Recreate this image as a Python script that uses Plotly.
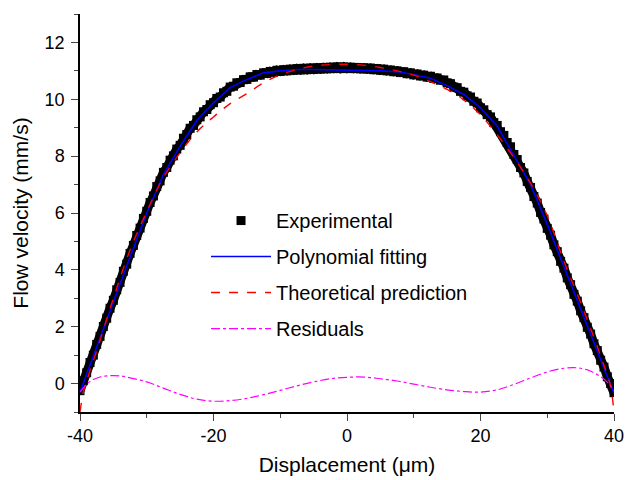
import plotly.graph_objects as go

# Experimental data (displacement in µm, velocity in mm/s)
exp_x = [-40.0, -39.5, -39.0, -38.5, -38.0, -37.5, -37.0, -36.5, -36.0, -35.5, -35.0,
         -34.5, -34.0, -33.5, -33.0, -32.5, -32.0, -31.5, -31.0, -30.5, -30.0,
         -29.5, -29.0, -28.5, -28.0, -27.5, -27.0, -26.5, -26.0, -25.5, -25.0,
         -24.5, -24.0, -23.5, -23.0, -22.5, -22.0, -21.5, -21.0, -20.5, -20.0,
         -19.5, -19.0, -18.5, -18.0, -17.5, -17.0, -16.5, -16.0, -15.5, -15.0,
         -14.5, -14.0, -13.5, -13.0, -12.5, -12.0, -11.5, -11.0, -10.5, -10.0,
         -9.5, -9.0, -8.5, -8.0, -7.5, -7.0, -6.5, -6.0, -5.5, -5.0,
         -4.5, -4.0, -3.5, -3.0, -2.5, -2.0, -1.5, -1.0, -0.5, 0.0,
         0.5, 1.0, 1.5, 2.0, 2.5, 3.0, 3.5, 4.0, 4.5, 5.0,
         5.5, 6.0, 6.5, 7.0, 7.5, 8.0, 8.5, 9.0, 9.5, 10.0,
         10.5, 11.0, 11.5, 12.0, 12.5, 13.0, 13.5, 14.0, 14.5, 15.0,
         15.5, 16.0, 16.5, 17.0, 17.5, 18.0, 18.5, 19.0, 19.5, 20.0,
         20.5, 21.0, 21.5, 22.0, 22.5, 23.0, 23.5, 24.0, 24.5, 25.0,
         25.5, 26.0, 26.5, 27.0, 27.5, 28.0, 28.5, 29.0, 29.5, 30.0,
         30.5, 31.0, 31.5, 32.0, 32.5, 33.0, 33.5, 34.0, 34.5, 35.0,
         35.5, 36.0, 36.5, 37.0, 37.5, 38.0, 38.5, 39.0, 39.5, 40.0]
exp_v = [-0.25, 0.10, 0.38, 0.74, 1.00, 1.38, 1.66, 2.01, 2.30, 2.65, 2.93,
         3.30, 3.56, 3.95, 4.20, 4.58, 4.86, 5.21, 5.47, 5.81, 6.06,
         6.37, 6.60, 6.93, 7.13, 7.43, 7.60, 7.86, 8.01, 8.25, 8.38,
         8.63, 8.76, 8.98, 9.08, 9.28, 9.38, 9.56, 9.64, 9.81, 9.88,
         10.03, 10.08, 10.23, 10.28, 10.43, 10.46, 10.58, 10.59, 10.69, 10.70,
         10.79, 10.78, 10.87, 10.85, 10.93, 10.91, 10.98, 10.95, 11.02, 10.98,
         11.04, 11.00, 11.06, 11.02, 11.08, 11.03, 11.09, 11.04, 11.10, 11.05,
         11.11, 11.06, 11.12, 11.07, 11.13, 11.08, 11.14, 11.08, 11.14, 11.08,
         11.13, 11.08, 11.12, 11.07, 11.11, 11.06, 11.10, 11.04, 11.08, 11.02,
         11.06, 11.00, 11.03, 10.97, 11.00, 10.94, 10.97, 10.90, 10.93, 10.86,
         10.89, 10.82, 10.85, 10.78, 10.81, 10.73, 10.75, 10.67, 10.68, 10.58,
         10.55, 10.43, 10.41, 10.28, 10.25, 10.12, 10.08, 9.93, 9.87, 9.70,
         9.63, 9.46, 9.38, 9.18, 9.08, 8.86, 8.73, 8.48, 8.33, 8.06,
         7.88, 7.60, 7.41, 7.11, 6.90, 6.58, 6.35, 6.02, 5.79, 5.46,
         5.22, 4.88, 4.64, 4.30, 4.06, 3.72, 3.48, 3.14, 2.90, 2.56,
         2.32, 1.98, 1.74, 1.40, 1.16, 0.82, 0.58, 0.24, 0.00, -0.32]

# Polynomial fit
fit_x = [-40, -37.5, -35, -32.5, -30, -27.5, -25, -22.5, -20, -17.5, -15, -12.5, -10,
         -7.5, -5, -2.5, 0, 2.5, 5, 7.5, 10, 12.5, 15, 17.5, 20, 22.5, 25, 27.5,
         30, 32.5, 35, 37.5, 40]
fit_v = [-0.30, 1.30, 2.90, 4.45, 6.00, 7.35, 8.35, 9.25, 9.88, 10.41, 10.70, 10.93, 11.00,
         11.05, 11.05, 11.04, 11.03, 11.02, 11.00, 10.97, 10.87, 10.74, 10.48, 10.17, 9.70,
         9.05, 8.05, 7.00, 5.60, 4.10, 2.60, 1.10, -0.35]

# Theoretical prediction
theo_x = [-40, -39.5, -39, -37.5, -35, -32.5, -30, -27.5, -25, -22.5, -20, -17.5, -15,
          -12.5, -10, -7.5, -5, -2.5, 0, 2.5, 5, 7.5, 10, 12.5, 15, 17.5, 20, 22.5,
          25, 27.5, 30, 32.5, 35, 37.5, 39, 39.5, 40]
theo_v = [-1.00, -0.30, 0.10, 1.15, 3.00, 4.70, 6.05, 7.25, 8.12, 8.85, 9.38, 9.85, 10.20,
          10.58, 10.86, 11.05, 11.17, 11.22, 11.23, 11.20, 11.12, 11.00, 10.85, 10.62,
          10.35, 9.98, 9.45, 8.75, 7.95, 7.05, 5.90, 4.30, 2.85, 1.30, 0.30, -0.10, -1.00]

# Residuals
res_x = [-40, -39, -38, -37, -36, -35, -34, -32.5, -30, -27.5, -25, -22.5, -20, -17.5,
         -15, -12.5, -10, -7.5, -5, -2.5, 0, 2.5, 5, 7.5, 10, 12.5, 15, 17.5, 20, 22.5,
         25, 27.5, 30, 32.5, 34, 35, 36, 37, 38, 39, 40]
res_v = [-0.30, -0.02, 0.14, 0.23, 0.27, 0.28, 0.27, 0.20, 0.06, -0.16, -0.38, -0.55,
         -0.62, -0.60, -0.52, -0.39, -0.24, -0.08, 0.06, 0.17, 0.22, 0.23, 0.17, 0.09,
         -0.02, -0.13, -0.22, -0.28, -0.30, -0.22, -0.03, 0.20, 0.41, 0.54, 0.56, 0.54,
         0.48, 0.38, 0.24, 0.05, -0.25]

x_ticks = [-40, -20, 0, 20, 40]
x_tick_text = ["-40", "-20", "0", "20", "40"]
y_ticks = [0, 2, 4, 6, 8, 10, 12]
y_tick_text = ["0", "2", "4", "6", "8", "10", "12"]

FONT = "Liberation Sans, Arial, sans-serif"

fig = go.Figure()
# continuous band underneath the experimental squares
fig.add_trace(go.Scatter(x=exp_x, y=exp_v, mode="lines", showlegend=False,
                         hoverinfo="skip", line=dict(color="black", width=9)))
fig.add_trace(go.Scatter(x=exp_x, y=exp_v, mode="markers", name="Experimental",
                         legendgroup="a",
                         marker=dict(symbol="square", size=9, color="black",
                                     line=dict(width=0))))
fig.add_trace(go.Scatter(x=fit_x, y=fit_v, mode="lines", name="Polynomial fitting",
                         legendgroup="b",
                         line=dict(color="#0000FF", width=1.6)))
fig.add_trace(go.Scatter(x=theo_x, y=theo_v, mode="lines", name="Theoretical prediction",
                         legendgroup="c",
                         line=dict(color="#FF0000", width=1.4, dash="dash", shape="spline")))
fig.add_trace(go.Scatter(x=res_x, y=res_v, mode="lines", name="Residuals",
                         legendgroup="d",
                         line=dict(color="#FF00FF", width=1.2, dash="dashdot", shape="spline")))

fig.update_layout(
    width=626, height=480,
    margin=dict(l=80, r=12, t=14, b=68),
    paper_bgcolor="white", plot_bgcolor="white",
    font=dict(family=FONT, size=18, color="black"),
    showlegend=True,
    legend=dict(x=0.236, y=0.53, xanchor="left", yanchor="top",
                bgcolor="rgba(0,0,0,0)", borderwidth=0, itemwidth=60,
                font=dict(size=20, family=FONT), tracegroupgap=7),
    xaxis=dict(range=[-40, 40], tickvals=x_ticks, ticktext=x_tick_text,
               ticks="outside", ticklen=7, automargin=False,
               tickwidth=1.3, showline=True, linecolor="black", linewidth=1.5,
               showgrid=False, zeroline=False, mirror=False,
               minor=dict(dtick=10, tick0=0, ticks="outside", ticklen=4,
                          tickwidth=1.2, showgrid=False),
               title=dict(text="Displacement (μm)", font=dict(size=21), standoff=12),
               tickfont=dict(size=18)),
    yaxis=dict(range=[-1, 13], tickvals=y_ticks, ticktext=y_tick_text,
               ticks="outside", ticklen=7, automargin=False, ticklabelstandoff=3,
               tickwidth=1.3, showline=True, linecolor="black", linewidth=1.5,
               showgrid=False, zeroline=False, mirror=False,
               minor=dict(dtick=1, tick0=1, ticks="outside", ticklen=4,
                          tickwidth=1.2, showgrid=False),
               title=dict(text="Flow velocity (mm/s)", font=dict(size=21), standoff=10),
               tickfont=dict(size=18)),
)

fig.write_html("out.html", config={"displayModeBar": False},
               post_script="document.body.style.margin='0';")
